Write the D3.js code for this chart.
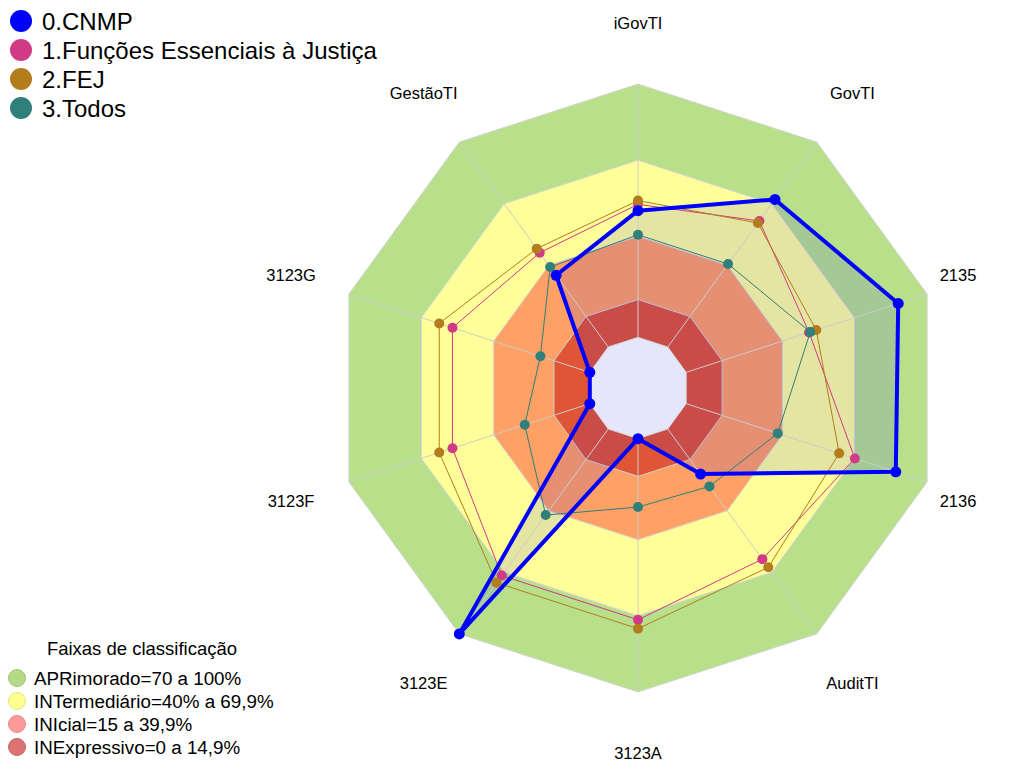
<!DOCTYPE html>
<html>
<head>
<meta charset="utf-8">
<script src="https://cdn.jsdelivr.net/npm/d3@7"></script>
<style>
  body { margin: 0; background: #fff; }
  text { font-family: "Liberation Sans", Arial, sans-serif; fill: #000; }
</style>
</head>
<body>
<div id="chart"></div>
<script>
// Axes of the radar, clockwise from the top
const axes = ["iGovTI", "GovTI", "2135", "2136", "AuditTI", "3123A", "3123E", "3123F", "3123G", "GestãoTI"];

// Series (percent per axis)
const seriesNames = ["0.CNMP", "1.Funções Essenciais à Justiça", "2.FEJ", "3.Todos"];
const cnmp   = [50, 72, 88, 87, 22, 0, 100, 0, 0, 35];
const fej1   = [52.5, 61.5, 51, 70, 63.5, 71.5, 71.5, 57, 57, 46];
const fej2   = [54, 60.5, 54, 63.5, 67.5, 75, 75, 62.5, 62.5, 48];
const todos  = [40.5, 40.5, 51.5, 38, 28, 27, 42, 27, 20.5, 39];
const seriesColors = ["#0000FF", "#D13A86", "#B37C1C", "#2F7F7B"];

// Classification bands
const bandTitle = "Faixas de classificação";
const bandLabels = ["APRimorado=70 a 100%", "INTermediário=40% a 69,9%", "INIcial=15 a 39,9%", "INExpressivo=0 a 14,9%"];
const bandLimits = [100, 69.9, 39.9, 14.9];
const bandFill = ["#B8E08A", "#FFFF99", "#FFA064", "#E05535"];
const bandLegendFill = ["#B3DB84", "#FFFF8F", "#FF9A9A", "#DC7272"];

const width = 1009, height = 763;
const cx = 638, cy = 388, R = 304;

const svg = d3.select("#chart").append("svg")
  .attr("width", width)
  .attr("height", height);

// value 0 sits on a small inner ring, like fmsb's radarchart
const r = d3.scaleLinear().domain([0, 100]).range([R / 6, R]);
const angle = i => i * 2 * Math.PI / axes.length;

const radial = d3.lineRadial()
  .angle((d, i) => angle(i))
  .radius(d => r(d))
  .curve(d3.curveLinearClosed);

const g = svg.append("g").attr("transform", `translate(${cx},${cy})`);

// background bands, outer first
bandLimits.forEach((v, k) => {
  g.append("path")
    .attr("d", radial(axes.map(() => v)))
    .attr("fill", bandFill[k])
    .attr("stroke", "#d4d4d4")
    .attr("stroke-width", 1);
});

// CNMP gets a light fill
g.append("path")
  .attr("d", radial(cnmp))
  .attr("fill", "rgba(0,0,255,0.1)")
  .attr("stroke", "none");

// inner hole (value 0)
g.append("path")
  .attr("d", radial(axes.map(() => 0)))
  .attr("fill", "#E6E6FA")
  .attr("stroke", "#d4d4d4");

// spokes
g.selectAll(".spoke")
  .data(axes)
  .enter().append("line")
  .attr("class", "spoke")
  .attr("x1", (d, i) => r(0) * Math.sin(angle(i)))
  .attr("y1", (d, i) => -r(0) * Math.cos(angle(i)))
  .attr("x2", (d, i) => r(100) * Math.sin(angle(i)))
  .attr("y2", (d, i) => -r(100) * Math.cos(angle(i)))
  .attr("stroke", "#cccccc")
  .attr("stroke-width", 1);

// draw series: thin ones first, CNMP on top
const allSeries = [cnmp, fej1, fej2, todos];
[1, 2, 3, 0].forEach(s => {
  const vals = allSeries[s];
  const thick = s === 0;
  g.append("path")
    .attr("d", radial(vals))
    .attr("fill", "none")
    .attr("stroke", seriesColors[s])
    .attr("stroke-width", thick ? 4 : 1)
    .attr("stroke-linejoin", "round");
  g.selectAll(".pt" + s)
    .data(vals)
    .enter().append("circle")
    .attr("class", "pt" + s)
    .attr("cx", (d, i) => r(d) * Math.sin(angle(i)))
    .attr("cy", (d, i) => -r(d) * Math.cos(angle(i)))
    .attr("r", thick ? 5.5 : 5)
    .attr("fill", seriesColors[s]);
});

// axis labels
g.selectAll(".axlab")
  .data(axes)
  .enter().append("text")
  .attr("class", "axlab")
  .attr("x", (d, i) => Math.min(1.2 * R * Math.sin(angle(i)), width - 51 - cx))
  .attr("y", (d, i) => -1.2 * R * Math.cos(angle(i)))
  .attr("text-anchor", "middle")
  .attr("dominant-baseline", "central")
  .style("font-size", "16.5px")
  .text(d => d);

// series legend (top left)
const leg = svg.append("g");
seriesNames.forEach((name, k) => {
  const y = 21 + k * 29;
  leg.append("circle").attr("cx", 21).attr("cy", y).attr("r", 11).attr("fill", seriesColors[k]);
  leg.append("text").attr("x", 42).attr("y", y + 8.5)
    .style("font-size", "24px").text(name);
});

// band legend (bottom left)
const bleg = svg.append("g");
bleg.append("text").attr("x", 142).attr("y", 655)
  .attr("text-anchor", "middle").style("font-size", "18.5px").text(bandTitle);
bandLabels.forEach((lab, k) => {
  const y = 678 + k * 23;
  bleg.append("circle").attr("cx", 17).attr("cy", y).attr("r", 8.5)
    .attr("fill", bandLegendFill[k])
    .attr("stroke", d3.color(bandLegendFill[k]).darker(0.3))
    .attr("stroke-width", 1);
  bleg.append("text").attr("x", 34).attr("y", y + 6.5)
    .style("font-size", "18.8px").text(lab);
});
</script>
</body>
</html>
